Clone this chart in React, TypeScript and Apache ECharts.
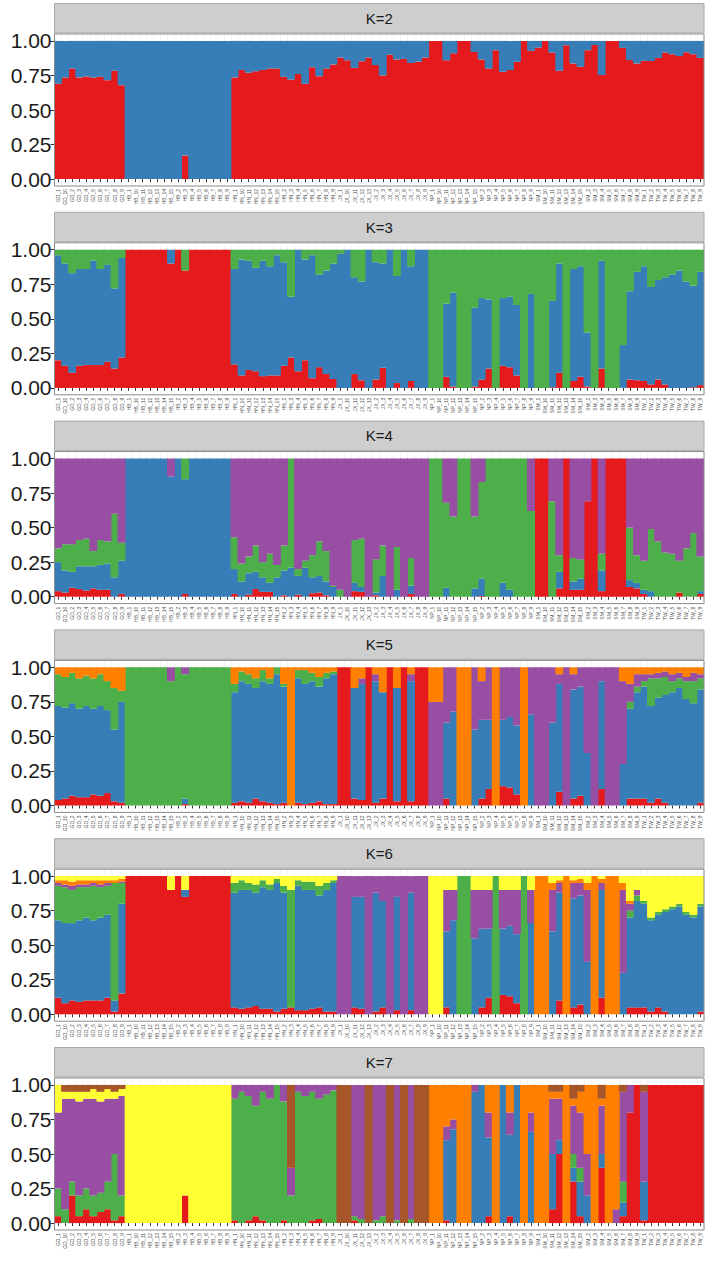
import React, { useEffect, useRef } from "react";
import * as echarts from "echarts";

const SAMPLES = [
  "GD_1","GD_10","GD_2","GD_3","GD_4","GD_5","GD_6","GD_7","GD_8","GD_9",
  "HB_1","HB_10","HB_11","HB_12","HB_13","HB_14","HB_15","HB_2","HB_3","HB_4","HB_5","HB_6","HB_7","HB_8","HB_9",
  "HN_1","HN_10","HN_11","HN_12","HN_13","HN_14","HN_15","HN_2","HN_3","HN_4","HN_5","HN_6","HN_7","HN_8","HN_9",
  "JX_1","JX_10","JX_11","JX_12","JX_13","JX_2","JX_3","JX_4","JX_5","JX_6","JX_7","JX_8","JX_9",
  "NP_1","NP_10","NP_11","NP_12","NP_13","NP_14","NP_15","NP_2","NP_3","NP_4","NP_5","NP_6","NP_7","NP_8","NP_9",
  "SM_1","SM_10","SM_11","SM_12","SM_13","SM_14","SM_15","SM_2","SM_3","SM_4","SM_5","SM_6","SM_7","SM_8","SM_9",
  "TW_1","TW_2","TW_3","TW_4","TW_5","TW_6","TW_7","TW_8","TW_9"
];

const CLUSTER_COLORS = ["#E41A1C", "#377EB8", "#4DAF4A", "#984EA3", "#FF7F00", "#FFFF33", "#A65628"];
const K_VALUES = [2, 3, 4, 5, 6, 7];
const Y_TICKS = [0, 0.25, 0.5, 0.75, 1];

// Each row: cumulative upper boundaries of clusters 1..K-1 (bottom to top); cluster K fills to 1.
const K2_BOUNDS = [
  [0.69],[0.736],[0.80],[0.736],[0.743],[0.735],[0.74],[0.716],[0.784],[0.68],
  [0],[0],[0],[0],[0],[0],[0],[0],[0.17],[0],[0],[0],[0],[0],[0],
  [0.736],[0.79],[0.77],[0.78],[0.79],[0.80],[0.80],[0.74],[0.72],[0.76],[0.69],[0.81],[0.745],[0.80],[0.83],
  [0.88],[0.86],[0.805],[0.853],[0.88],[0.825],[0.75],[0.90],[0.866],[0.87],[0.84],[0.85],[0.88],
  [1],[1],[0.86],[0.91],[1],[1],[0.92],[0.866],[0.80],[0.933],[0.777],[0.789],[0.849],[1],[0.928],
  [0.952],[1],[0.916],[0.784],[0.969],[0.837],[0.813],[0.933],[0.97],[0.753],[1],[1],[0.95],[0.861],[0.837],
  [0.856],[0.854],[0.877],[0.916],[0.904],[0.89],[0.918],[0.904],[0.877]
];

const K3_BOUNDS = [
  [0.20,0.96],[0.16,0.90],[0.11,0.83],[0.16,0.86],[0.165,0.86],[0.165,0.92],[0.165,0.86],[0.19,0.89],[0.14,0.72],[0.22,0.94],
  [1,1],[1,1],[1,1],[1,1],[1,1],[1,1],[0.90,1],[1,1],[0.85,0.85],[1,1],[1,1],[1,1],[1,1],[1,1],[1,1],
  [0.17,0.86],[0.09,0.93],[0.13,0.92],[0.12,0.87],[0.085,0.92],[0.09,0.88],[0.09,0.96],[0.16,0.91],[0.22,0.66],[0.12,1],
  [0.20,0.93],[0.07,0.96],[0.15,0.82],[0.10,0.85],[0.065,0.90],
  [0,0.97],[0,1],[0.10,0.80],[0.055,0.77],[0,1],[0.06,0.91],[0.145,0.90],[0,1],[0.035,0.81],[0,1],[0.05,0.88],[0,1],[0,1],
  [0,0],[0,0],[0.08,0.61],[0.01,0.69],[0,0],[0,0],[0.01,0.58],[0.06,0.65],[0.14,0.64],[0,0],[0.16,0.65],[0.15,0.66],[0.09,0.60],[0,0],[0,0.68],
  [0,0],[0,0],[0.005,0.63],[0.11,0.90],[0,0],[0.05,0.86],[0.08,0.88],[0.01,0.40],[0,0],[0.14,0.92],[0,0],[0,0],[0,0.31],[0.06,0.70],[0.055,0.84],
  [0.05,0.88],[0.025,0.73],[0.06,0.78],[0.025,0.80],[0,0.82],[0,0.85],[0,0.77],[0.005,0.74],[0.02,0.84]
];

const K4_BOUNDS = [
  [0.04,0.25,0.35],[0.03,0.19,0.38],[0.065,0.18,0.38],[0.055,0.22,0.41],[0.045,0.22,0.42],[0.06,0.22,0.33],[0.05,0.23,0.41],[0.05,0.24,0.40],[0,0.14,0.60],[0.02,0.26,0.39],
  [0,1,1],[0,1,1],[0,1,1],[0,1,1],[0,1,1],[0,1,1],[0,0.87,0.87],[0,1,1],[0.02,0.85,1],[0,1,1],[0,1,1],[0,1,1],[0,1,1],[0,1,1],[0,1,1],
  [0.02,0.20,0.43],[0,0.11,0.24],[0.015,0.17,0.29],[0.055,0.18,0.37],[0.035,0.14,0.25],[0.035,0.10,0.31],[0,0.14,0.23],[0.01,0.19,0.37],[0,0.21,1],[0.015,0.15,0.20],
  [0,0.21,0.26],[0.025,0.14,0.30],[0.03,0.15,0.40],[0.01,0.11,0.33],[0,0.07,0.08],
  [0,0,0.05],[0,0,0],[0.04,0.10,0.41],[0.035,0.07,0.42],[0,0,0],[0.01,0.03,0.27],[0,0.15,0.37],[0,0,0],[0,0.05,0.36],[0,0,0],[0.02,0.08,0.28],[0,0,0],[0,0,0],
  [0,0,1],[0,0,1],[0,0.065,0.68],[0,0,0.58],[0,0,1],[0,0,1],[0,0.06,0.58],[0.005,0.13,0.83],[0,0,1],[0,0,1],[0,0.10,1],[0,0.05,1],[0,0,1],[0,0,1],[0,0,0.62],
  [1,1,1],[1,1,1],[0,0,0.69],[0.06,0.18,0.30],[1,1,1],[0.05,0.11,0.28],[0.05,0.13,0.27],[0.69,0.69,0.69],[1,1,1],[0.04,0.19,0.31],[1,1,1],[1,1,1],[1,1,1],[0.07,0.12,0.50],[0.06,0.10,0.30],
  [0.02,0.05,0.26],[0,0.04,0.49],[0,0,0.40],[0,0,0.32],[0,0,0.31],[0.03,0.03,0.26],[0,0,0.35],[0,0,0.46],[0.02,0.04,0.29]
];

const K5_BOUNDS = [
  [0.04,0.72,0.95,0.95],[0.05,0.71,0.93,0.93],[0.07,0.74,0.96,0.96],[0.06,0.70,0.92,0.92],[0.06,0.72,0.94,0.94],[0.08,0.70,0.92,0.92],[0.07,0.72,0.95,0.95],[0.09,0.69,0.90,0.90],[0.03,0.55,0.85,0.85],[0.02,0.75,0.83,0.83],
  [0,0,1,1],[0,0,1,1],[0,0,1,1],[0,0,1,1],[0,0,1,1],[0,0,1,1],[0,0,0.9,1],[0,0,1,1],[0.01,0.05,0.95,1],[0,0,1,1],[0,0,1,1],[0,0,1,1],[0,0,1,1],[0,0,1,1],[0,0,1,1],
  [0.02,0.82,0.88,0.88],[0.03,0.90,0.97,0.97],[0.02,0.88,0.95,0.95],[0.05,0.85,0.92,0.92],[0.03,0.90,0.98,0.98],[0.02,0.88,0.92,0.92],[0.01,0.95,1,1],[0.02,0.86,0.88,0.88],[0,0,0,0],[0.02,0.92,0.98,0.98],
  [0.01,0.88,0.98,0.98],[0.02,0.90,0.96,0.96],[0.03,0.86,0.93,0.93],[0.01,0.92,0.96,0.96],[0.01,0.95,0.97,0.97],
  [1,1,1,1],[1,1,1,1],[0.05,0.85,0.85,0.85],[0.04,0.88,0.88,0.92],[1,1,1,1],[0.02,0.9,0.9,0.95],[0.05,0.82,0.82,0.82],[1,1,1,1],[0.03,0.85,0.85,0.85],[1,1,1,1],[0.03,0.9,0.9,0.95],[1,1,1,1],[1,1,1,1],
  [0,0,0,0.75],[0,0,0,0.75],[0.05,0.6,0.6,1],[0,0.68,0.68,1],[0,0,0,0],[0,0,0,0],[0,0.55,0.55,1],[0.05,0.62,0.62,0.9],[0.12,0.62,0.62,1],[0,0,0,0],[0.14,0.62,0.62,1],[0.13,0.64,0.64,1],[0.08,0.58,0.58,1],[0,0,0,0],[0,0.66,0.66,1],
  [0,0,0,1],[0,0,0,1],[0,0.6,0.6,1],[0.1,0.88,0.88,0.95],[0,0,0,1],[0.05,0.84,0.84,0.95],[0.07,0.86,0.86,1],[0,0.38,0.38,1],[0,0,0,1],[0.12,0.9,0.9,1],[0,0,0,1],[0,0,0,1],[0,0.3,0.3,0.9],[0.05,0.7,0.75,0.88],[0.05,0.82,0.86,0.95],
  [0.05,0.86,0.9,0.95],[0.02,0.72,0.92,0.95],[0.05,0.78,0.92,0.96],[0.02,0.8,0.93,0.97],[0,0.82,0.9,0.95],[0,0.85,0.92,0.96],[0,0.77,0.9,0.93],[0,0.74,0.9,0.96],[0.02,0.84,0.92,0.95]
];

const K6_BOUNDS = [
  [0.12,0.68,0.93,0.95,0.97],[0.08,0.66,0.92,0.94,0.97],[0.1,0.66,0.9,0.93,0.96],[0.09,0.68,0.92,0.94,0.97],[0.1,0.7,0.92,0.94,0.97],[0.1,0.68,0.93,0.95,0.97],[0.1,0.7,0.92,0.94,0.97],[0.12,0.72,0.93,0.95,0.97],[0.02,0.1,0.95,0.95,0.97],[0.15,0.8,0.95,0.96,0.98],
  [1,1,1,1,1],[1,1,1,1,1],[1,1,1,1,1],[1,1,1,1,1],[1,1,1,1,1],[1,1,1,1,1],[0.9,0.9,0.9,0.9,0.9],[1,1,1,1,1],[0.85,0.9,0.9,0.9,0.9],[1,1,1,1,1],[1,1,1,1,1],[1,1,1,1,1],[1,1,1,1,1],[1,1,1,1,1],[1,1,1,1,1],
  [0.05,0.88,0.95,0.95,0.95],[0.04,0.9,0.97,0.97,0.97],[0.05,0.9,0.95,0.95,0.95],[0.06,0.88,0.94,0.94,0.94],[0.04,0.92,0.97,0.97,0.97],[0.04,0.9,0.94,0.94,0.94],[0.02,0.95,0.98,0.98,0.98],[0.04,0.88,0.93,0.93,0.93],[0.05,0.05,0.9,0.9,0.9],[0.03,0.93,0.97,0.97,0.97],
  [0.03,0.9,0.96,0.96,0.96],[0.04,0.9,0.96,0.96,0.96],[0.05,0.86,0.93,0.93,0.93],[0.02,0.9,0.95,0.95,0.95],[0.02,0.95,0.97,0.97,0.97],
  [0,0,0,1,1],[0,0,0,1,1],[0.05,0.85,0.85,1,1],[0.04,0.85,0.85,1,1],[0,0,0,1,1],[0.02,0.88,0.88,1,1],[0.05,0.82,0.82,1,1],[0,0,0,1,1],[0.03,0.85,0.85,1,1],[0,0,0,1,1],[0.03,0.88,0.88,1,1],[0,0,0,1,1],[0,0,0,1,1],
  [0,0,0,0,0],[0,0,0,0,0],[0.05,0.6,0.6,0.9,0.9],[0,0.68,0.68,0.9,0.9],[0,0,1,1,1],[0,0,1,1,1],[0,0.55,0.55,0.9,0.9],[0.05,0.62,0.62,0.9,0.9],[0.12,0.62,0.62,0.9,0.9],[0,0,1,1,1],[0.14,0.62,0.62,0.9,0.9],[0.13,0.64,0.64,0.9,0.9],[0.08,0.58,0.58,0.9,0.9],[0,0,1,1,1],[0,0.66,0.66,0.9,0.9],
  [0,0,0,0,1],[0,0,0,0,1],[0,0.6,0.6,0.9,0.95],[0.1,0.88,0.88,0.95,0.97],[0,0,0,0,1],[0.05,0.84,0.84,0.95,0.97],[0.07,0.86,0.86,0.95,0.98],[0,0.38,0.38,0.9,0.95],[0,0,0,0,1],[0.12,0.9,0.9,0.95,0.98],[0,0,0,0,1],[0,0,0,0,1],[0,0.3,0.3,0.9,0.95],[0.05,0.7,0.75,0.8,0.82],[0.05,0.82,0.86,0.9,0.9],
  [0.05,0.8,0.82,0.82,0.82],[0.02,0.68,0.7,0.7,0.7],[0.05,0.72,0.74,0.74,0.74],[0.02,0.74,0.76,0.76,0.76],[0,0.76,0.78,0.78,0.78],[0,0.78,0.8,0.8,0.8],[0,0.72,0.74,0.74,0.74],[0,0.7,0.72,0.72,0.72],[0.02,0.78,0.8,0.8,0.8]
];

const K7_BOUNDS = [
  [0.05,0.05,0.25,0.8,0.8,1],[0,0,0.1,0.9,0.9,0.95],[0.2,0.2,0.3,0.9,0.9,0.95],[0.05,0.05,0.2,0.88,0.88,0.95],[0.1,0.1,0.25,0.9,0.9,0.95],[0.05,0.05,0.2,0.9,0.9,0.97],[0.08,0.08,0.22,0.88,0.88,0.95],[0.1,0.1,0.3,0.9,0.9,0.97],[0.02,0.02,0.5,0.9,0.9,0.95],[0.05,0.05,0.2,0.92,0.92,0.97],
  [0,0,0,0,0,1],[0,0,0,0,0,1],[0,0,0,0,0,1],[0,0,0,0,0,1],[0,0,0,0,0,1],[0,0,0,0,0,1],[0,0,0,0,0,1],[0,0,0,0,0,1],[0.2,0.2,0.2,0.2,0.2,1],[0,0,0,0,0,1],[0,0,0,0,0,1],[0,0,0,0,0,1],[0,0,0,0,0,1],[0,0,0,0,0,1],[0,0,0,0,0,1],
  [0.02,0.02,0.9,1,1,1],[0,0,0.95,1,1,1],[0.02,0.02,0.92,1,1,1],[0.05,0.05,0.85,1,1,1],[0.02,0.02,0.95,1,1,1],[0,0,0.9,1,1,1],[0,0,1,1,1,1],[0.02,0.02,0.88,1,1,1],[0,0,0.2,0.4,0.4,0.4],[0,0,0.95,1,1,1],
  [0,0,0.92,1,1,1],[0.02,0.02,0.95,1,1,1],[0.03,0.03,0.9,1,1,1],[0,0,0.93,1,1,1],[0,0,0.96,1,1,1],
  [0,0,0,0,0,0],[0,0,0,0,0,0],[0.02,0.02,0.05,1,1,1],[0,0,0.03,1,1,1],[0,0,0,0,0,0],[0,0,0.02,1,1,1],[0,0,0.05,1,1,1],[0,0,0,0,0,0],[0,0,0.02,1,1,1],[0,0,0,0,0,0],[0,0,0.03,1,1,1],[0,0,0,0,0,0],[0,0,0,0,0,0],
  [0,0,0,0,1,1],[0,0,0,0,1,1],[0.02,0.6,0.6,0.7,1,1],[0,0.68,0.68,0.75,1,1],[0,0,0,0,1,1],[0,0,0,0,1,1],[0,0.95,0.95,1,1,1],[0,1,1,1,1,1],[0.05,0.62,0.62,0.8,1,1],[0,0,0,0,1,1],[0,1,1,1,1,1],[0.05,0.64,0.64,0.8,1,1],[0,1,1,1,1,1],[0,0,0,0,1,1],[0,0.66,0.66,0.8,1,1],
  [0,0,0,0,1,1],[0,0,0,0,1,1],[0.1,0.5,0.5,0.9,0.95,0.95],[0.5,0.6,0.6,0.9,0.95,0.95],[0,0,0,0,1,1],[0.3,0.4,0.5,0.85,0.9,0.9],[0.05,0.3,0.4,0.8,0.95,0.95],[0,0.2,0.2,0.5,1,1],[0,0,0,0,1,1],[0.4,0.5,0.5,0.85,0.9,0.9],[0,0,0,0,1,1],[0,0,0,0.1,1,1],[0.05,0.15,0.3,0.95,0.95,0.95],[0.8,0.8,0.8,1,1,1],[1,1,1,1,1,1],
  [0.02,0.3,0.3,0.95,0.95,0.95],[1,1,1,1,1,1],[1,1,1,1,1,1],[1,1,1,1,1,1],[1,1,1,1,1,1],[1,1,1,1,1,1],[1,1,1,1,1,1],[1,1,1,1,1,1],[1,1,1,1,1,1]
];

const BOUNDS_BY_K: Record<number, number[][]> = {
  2: K2_BOUNDS, 3: K3_BOUNDS, 4: K4_BOUNDS, 5: K5_BOUNDS, 6: K6_BOUNDS, 7: K7_BOUNDS,
};

function proportions(bounds: number[][], k: number): number[][] {
  const out: number[][] = [];
  for (let c = 0; c < k; c++) out.push([]);
  bounds.forEach((row) => {
    let prev = 0;
    for (let c = 0; c < k; c++) {
      const top = c < k - 1 ? Math.max(prev, Math.min(1, row[c])) : 1;
      out[c].push(+(top - prev).toFixed(4));
      prev = top;
    }
  });
  return out;
}

const W = 709;
const H = 1261;
const PANEL_STEP = 208.8;
const STRIP_TOP = 3.5;
const STRIP_H = 29.5;
const GRID_TOP = 34;
const GRID_H = 152;
const LEFT = 54.5;
const RIGHT = 5;
const FONT = "'Liberation Sans', Arial, Helvetica, sans-serif";

export default function App() {
  const ref = useRef<HTMLDivElement>(null);
  useEffect(() => {
    document.body.style.margin = "0";
    if (!ref.current) return;
    const chart = echarts.init(ref.current, null, { renderer: "svg", width: W, height: H });
    const grids: any[] = [];
    const xAxes: any[] = [];
    const yAxes: any[] = [];
    const series: any[] = [];
    const graphics: any[] = [];
    const plotW = W - LEFT - RIGHT;
    const band = plotW / SAMPLES.length;
    K_VALUES.forEach((k, i) => {
      const off = i * PANEL_STEP;
      grids.push({
        left: LEFT, right: RIGHT, top: GRID_TOP + off, height: GRID_H,
        show: true, backgroundColor: "#ffffff", borderWidth: 0,
      });
      xAxes.push({
        type: "category", gridIndex: i, data: SAMPLES, boundaryGap: true,
        axisLine: { show: false },
        axisTick: { show: true, alignWithLabel: true, interval: 0, length: 3, lineStyle: { color: "#333333", width: 1 } },
        axisLabel: { show: true, interval: 0, rotate: 90, fontSize: 5, color: "#4d4d4d", margin: 3, fontFamily: FONT },
        splitLine: { show: true, interval: 0, lineStyle: { color: "#ebebeb", width: 0.5 } },
      });
      yAxes.push({
        type: "value", gridIndex: i, min: -0.05, max: 1.05,
        axisLine: { show: false },
        axisTick: { show: true, length: 4, customValues: Y_TICKS, lineStyle: { color: "#333333", width: 1 } },
        axisLabel: {
          show: true, customValues: Y_TICKS, fontSize: 21, color: "#1a1a1a", margin: 3, fontFamily: FONT,
          formatter: (v: number) => v.toFixed(2),
        },
        splitLine: { show: false },
      });
      const props = proportions(BOUNDS_BY_K[k], k);
      for (let c = 0; c < k; c++) {
        series.push({
          type: "bar", name: `K${k}-C${c + 1}`, stack: `K${k}`, xAxisIndex: i, yAxisIndex: i,
          data: props[c], barWidth: band + 0.9, z: 3,
          itemStyle: { color: CLUSTER_COLORS[c], borderWidth: 0 },
          emphasis: { disabled: true }, silent: true,
        });
      }
      graphics.push({
        type: "rect", z: 100,
        shape: { x: LEFT, y: GRID_TOP + off, width: plotW, height: GRID_H },
        style: { fill: "none", stroke: "#8a8a8a", lineWidth: 1 },
      });
      graphics.push({
        type: "rect", z: 100,
        shape: { x: LEFT, y: STRIP_TOP + off, width: plotW, height: STRIP_H },
        style: { fill: "#cecece", stroke: "#a9a9a9", lineWidth: 1 },
      });
      graphics.push({
        type: "text", z: 101, x: LEFT + plotW / 2, y: STRIP_TOP + off + STRIP_H / 2,
        style: { text: `K=${k}`, fontSize: 15, fill: "#1a1a1a", align: "center", verticalAlign: "middle", fontFamily: FONT },
      });
    });
    chart.setOption({
      animation: false,
      backgroundColor: "#ffffff",
      grid: grids,
      xAxis: xAxes,
      yAxis: yAxes,
      series,
      graphic: graphics,
    });
    return () => chart.dispose();
  }, []);
  return <div ref={ref} style={{ width: W, height: H }} />;
}
